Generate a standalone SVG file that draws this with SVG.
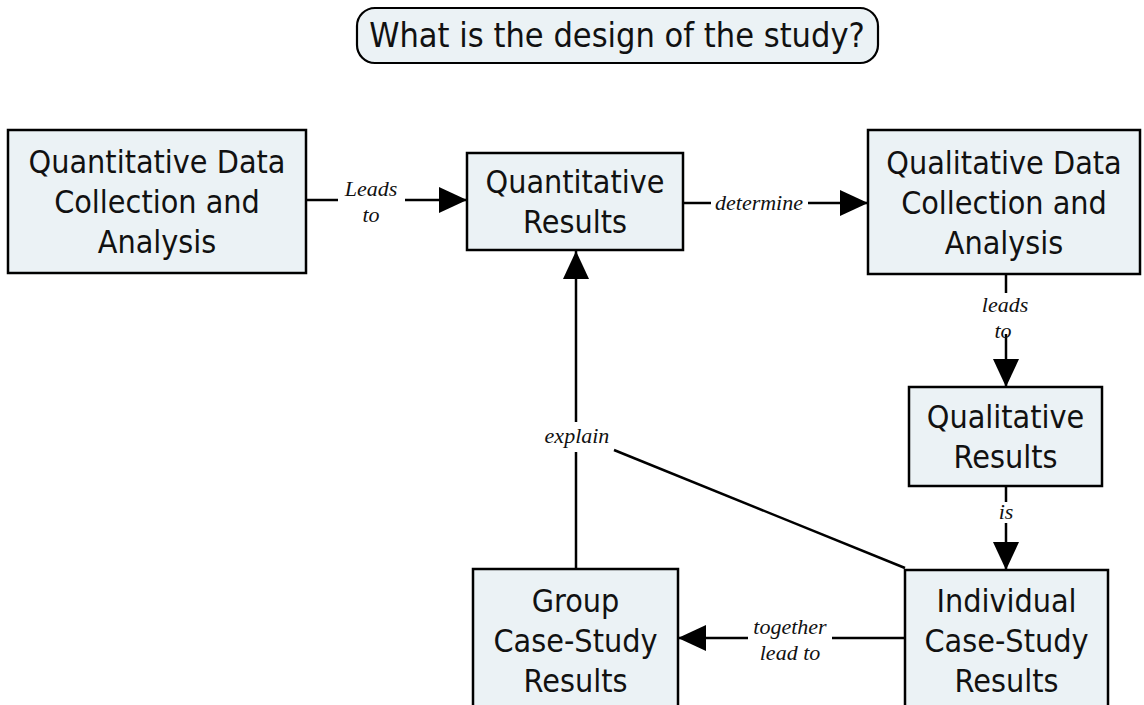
<svg xmlns="http://www.w3.org/2000/svg" width="1144" height="705" viewBox="0 0 1144 705">
  <style>
    .node { fill: #ebf2f5; stroke: #000; stroke-width: 2.5; }
    .title { fill: #ebf2f5; stroke: #000; stroke-width: 2.2; }
    .txt { font-family: "DejaVu Sans Condensed", "DejaVu Sans", sans-serif; font-stretch: condensed; font-size: 32px; fill: #111; text-anchor: middle; }
    .ttl { font-size: 34px; }
    .lbl { font-family: "Liberation Serif", "Times New Roman", serif; font-style: italic; font-size: 22px; fill: #111; text-anchor: middle; }
    .ln { stroke: #000; stroke-width: 2.5; fill: none; }
  </style>
  <defs>
    <marker id="arrow" markerUnits="userSpaceOnUse" markerWidth="29" markerHeight="28" refX="28" refY="14" orient="auto">
      <path d="M0,1 L28,14 L0,27 z" fill="#000"/>
    </marker>
  </defs>

  <rect width="1144" height="705" fill="#fff"/>

  <!-- question heading -->
  <g id="title">
    <rect class="title" x="357" y="8" width="521" height="55" rx="18" ry="18"/>
    <text class="txt ttl" x="617" y="47">What is the design of the study?</text>
  </g>

  <!-- connectors and link phrases -->
  <g id="connectors">
    <!-- Leads to -->
    <line class="ln" x1="306" y1="200" x2="338" y2="200"/>
    <line class="ln" x1="405" y1="200" x2="467" y2="200" marker-end="url(#arrow)"/>
    <text class="lbl" x="371" y="196">Leads</text>
    <text class="lbl" x="371" y="222">to</text>

    <!-- determine -->
    <line class="ln" x1="683" y1="203" x2="711" y2="203"/>
    <line class="ln" x1="808" y1="203" x2="868" y2="203" marker-end="url(#arrow)"/>
    <text class="lbl" x="759" y="210">determine</text>

    <!-- leads to (vertical) -->
    <line class="ln" x1="1006" y1="274" x2="1006" y2="293"/>
    <line class="ln" x1="1006" y1="334" x2="1006" y2="387" marker-end="url(#arrow)"/>
    <text class="lbl" x="1005" y="312">leads</text>
    <text class="lbl" x="1003" y="338">to</text>

    <!-- is -->
    <line class="ln" x1="1006" y1="486" x2="1006" y2="502"/>
    <line class="ln" x1="1006" y1="523" x2="1006" y2="570" marker-end="url(#arrow)"/>
    <text class="lbl" x="1006" y="519">is</text>

    <!-- together lead to -->
    <line class="ln" x1="905" y1="638" x2="832" y2="638"/>
    <line class="ln" x1="748" y1="638" x2="678" y2="638" marker-end="url(#arrow)"/>
    <text class="lbl" x="790" y="634">together</text>
    <text class="lbl" x="790" y="660">lead to</text>

    <!-- explain -->
    <line class="ln" x1="576" y1="569" x2="576" y2="452"/>
    <line class="ln" x1="576" y1="422" x2="576" y2="251" marker-end="url(#arrow)"/>
    <line class="ln" x1="905" y1="568" x2="614" y2="450"/>
    <text class="lbl" x="577" y="443">explain</text>
  </g>

  <g id="quant-data">
    <rect class="node" x="8" y="130" width="298" height="143"/>
    <text class="txt" x="157" y="173">Quantitative Data</text>
    <text class="txt" x="157" y="213">Collection and</text>
    <text class="txt" x="157" y="253">Analysis</text>
  </g>

  <g id="quant-results">
    <rect class="node" x="467" y="153" width="216" height="97"/>
    <text class="txt" x="575" y="193">Quantitative</text>
    <text class="txt" x="575" y="233">Results</text>
  </g>

  <g id="qual-data">
    <rect class="node" x="868" y="130" width="272" height="144"/>
    <text class="txt" x="1004" y="174">Qualitative Data</text>
    <text class="txt" x="1004" y="214">Collection and</text>
    <text class="txt" x="1004" y="254">Analysis</text>
  </g>

  <g id="qual-results">
    <rect class="node" x="909" y="387" width="193" height="99"/>
    <text class="txt" x="1005.5" y="428">Qualitative</text>
    <text class="txt" x="1005.5" y="468">Results</text>
  </g>

  <g id="individual-case">
    <rect class="node" x="905" y="570" width="203" height="150"/>
    <text class="txt" x="1006.5" y="612">Individual</text>
    <text class="txt" x="1006.5" y="652">Case-Study</text>
    <text class="txt" x="1006.5" y="692">Results</text>
  </g>

  <g id="group-case">
    <rect class="node" x="473" y="569" width="205" height="150"/>
    <text class="txt" x="575.5" y="612">Group</text>
    <text class="txt" x="575.5" y="652">Case-Study</text>
    <text class="txt" x="575.5" y="692">Results</text>
  </g>
</svg>
